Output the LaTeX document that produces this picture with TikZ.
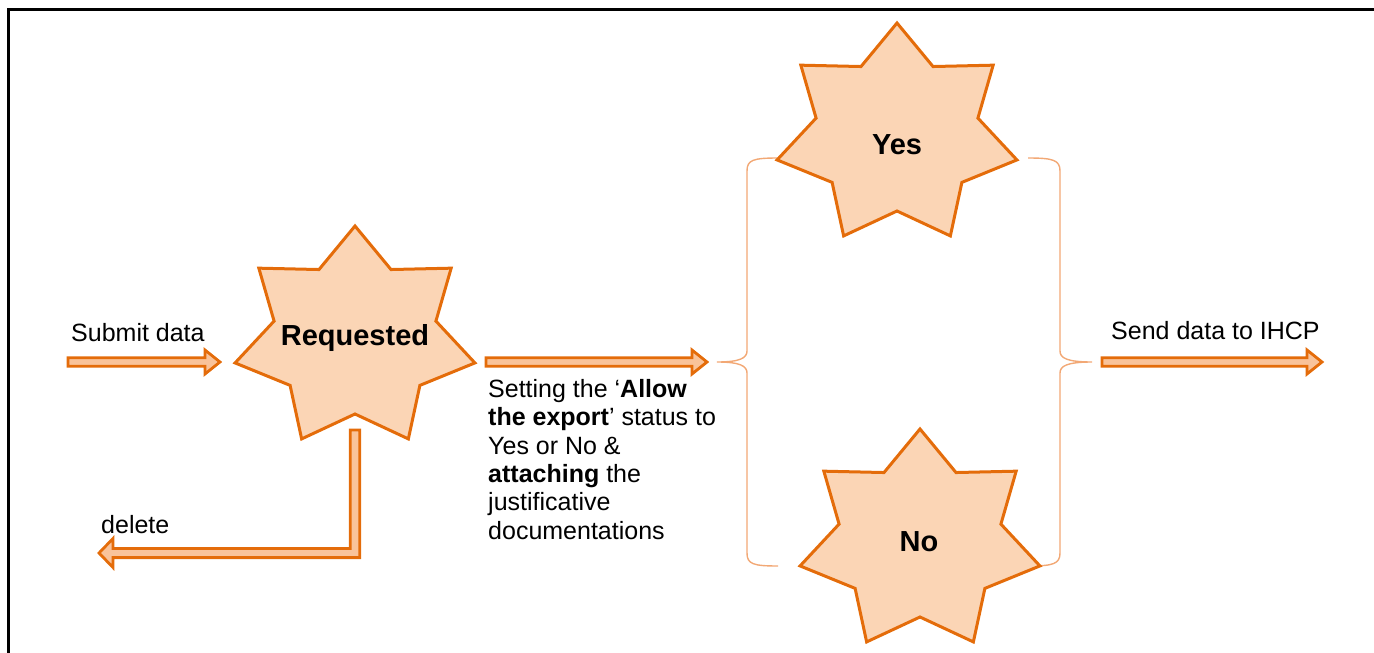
\documentclass[tikz,border=0pt]{standalone}
\usepackage{fontspec}
\setmainfont{Liberation Sans}
\usetikzlibrary{calc}
\definecolor{starline}{HTML}{E46C0A}
\definecolor{starfill}{HTML}{FBD5B5}
\definecolor{arrowfill}{HTML}{F9C39A}
\definecolor{bracecol}{HTML}{F2A875}
\tikzset{
  starst/.style={draw=starline, fill=starfill, line width=3pt, line join=miter},
  barrow/.style={draw=starline, fill=arrowfill, line width=2.8pt, line join=miter},
  bracest/.style={draw=bracecol, line width=1.4pt},
  lbl/.style={font=\fontsize{25}{28.3}\selectfont, inner sep=0pt},
  starlbl/.style={font=\fontsize{29}{32}\selectfont\bfseries, inner sep=0pt},
}
\newcommand\drawsevenstar[1]{%
  \draw[starst] ($(#1)+(0,-112)$)
    \foreach \k in {1,...,13} {
      -- ($(#1)+({(mod(\k,2)==0?123:83)*cos(-90+\k*360/14)},{(mod(\k,2)==0?112:76)*sin(-90+\k*360/14)})$)
    } -- cycle;}
\newcommand\harrow[2]{%
  \draw[barrow] ($(#1)+(0,-4.2)$) -- ($(#2)+(-15,-4.2)$) -- ($(#2)+(-15,-12)$) -- (#2)
    -- ($(#2)+(-15,12)$) -- ($(#2)+(-15,4.2)$) -- ($(#1)+(0,4.2)$) -- cycle;}
\begin{document}
\begin{tikzpicture}[x=1pt,y=-1pt]
\useasboundingbox (0,0) rectangle (1374,653);
% frame
\draw[line width=3pt] (8,653) -- (8,9.5) -- (1374,9.5);

% centres
\coordinate (reqc) at (355,338);
\coordinate (yesc) at (897,135);
\coordinate (noc) at (920,541);

% braces
\coordinate (lbtip) at (717,362);
\coordinate (rbtip) at (1092,362);
\draw[bracest] (778,158) .. controls (753,158) and (747,160) .. (747,171)
  -- (747,351) .. controls (747,358) and (740,362) .. (lbtip)
  .. controls (740,362) and (747,366) .. (747,373)
  -- (747,553) .. controls (747,564) and (753,566) .. (778,566);
\draw[bracest] (1028,158) .. controls (1053,158) and (1060,160) .. (1060,171)
  -- (1060,351) .. controls (1060,358) and (1067,362) .. (rbtip)
  .. controls (1067,362) and (1060,366) .. (1060,373)
  -- (1060,553) .. controls (1060,564) and (1053,566) .. (1028,566);

% stars
\drawsevenstar{reqc}
\drawsevenstar{yesc}
\drawsevenstar{noc}
\node[starlbl] (req) at (355,338) {Requested};
\node[starlbl] (yes) at (897,145) {Yes};
\node[starlbl] (no) at (919,542) {No};

% arrows
\coordinate (subs) at (68,362);
\coordinate (sube) at (220,362);
\harrow{subs}{sube}
\coordinate (mids) at (486,362);
\coordinate (mide) at (707,362);
\harrow{mids}{mide}
\coordinate (sends) at (1102,362);
\coordinate (sende) at (1322,362);
\harrow{sends}{sende}

\coordinate (dtop) at (355,430);
\coordinate (dcorner) at (355,553);
\coordinate (dtip) at (99,553);
\draw[barrow] ($(dtop)+(-4.8,0)$) -- ($(dtop)+(4.8,0)$) -- ($(dcorner)+(4.8,4.6)$)
  -- ($(dtip)+(14,4.6)$) -- ($(dtip)+(14,14.5)$) -- (dtip) -- ($(dtip)+(14,-14.5)$)
  -- ($(dtip)+(14,-4.6)$) -- ($(dcorner)+(-4.8,-4.6)$) -- cycle;

% labels
\node[lbl, anchor=base west] (sub) at (71,341.5) {Submit data};
\node[lbl, anchor=base west] (send) at (1111,339.5) {Send data to IHCP};
\node[lbl, anchor=base west] (del) at (101,533) {delete};
\node[lbl, anchor=base west, align=left] (desc) at (488,539)
  {Setting the ‘\textbf{Allow}\\
   \textbf{the export}’ status to\\
   Yes or No \&\\
   \textbf{attaching} the\\
   justificative\\
   documentations};
\end{tikzpicture}
\end{document}
